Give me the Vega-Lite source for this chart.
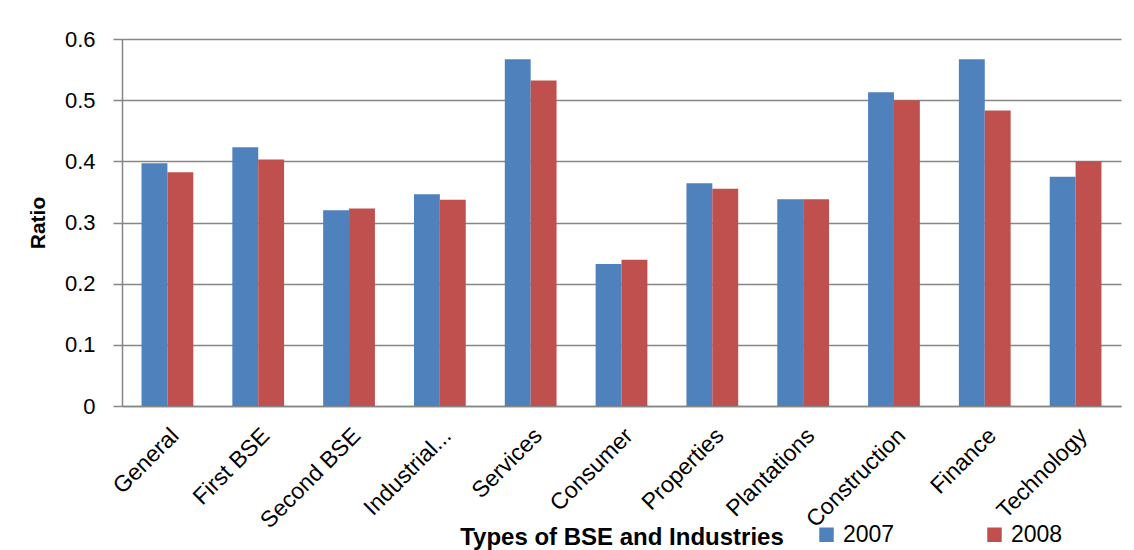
{
  "$schema": "https://vega.github.io/schema/vega-lite/v6.json",
  "autosize": {"type": "none"},
  "width": 999,
  "height": 367,
  "padding": {"left": 122, "top": 39, "right": 13, "bottom": 144},
  "background": "white",
  "data": {
    "values": [
      {"category": "General", "year": "2007", "ratio": 0.397},
      {"category": "General", "year": "2008", "ratio": 0.382},
      {"category": "First BSE", "year": "2007", "ratio": 0.423},
      {"category": "First BSE", "year": "2008", "ratio": 0.403},
      {"category": "Second BSE", "year": "2007", "ratio": 0.320},
      {"category": "Second BSE", "year": "2008", "ratio": 0.323},
      {"category": "Industrial...", "year": "2007", "ratio": 0.346},
      {"category": "Industrial...", "year": "2008", "ratio": 0.337},
      {"category": "Services", "year": "2007", "ratio": 0.567},
      {"category": "Services", "year": "2008", "ratio": 0.532},
      {"category": "Consumer", "year": "2007", "ratio": 0.232},
      {"category": "Consumer", "year": "2008", "ratio": 0.239},
      {"category": "Properties", "year": "2007", "ratio": 0.364},
      {"category": "Properties", "year": "2008", "ratio": 0.355},
      {"category": "Plantations", "year": "2007", "ratio": 0.338},
      {"category": "Plantations", "year": "2008", "ratio": 0.338},
      {"category": "Construction", "year": "2007", "ratio": 0.513},
      {"category": "Construction", "year": "2008", "ratio": 0.500},
      {"category": "Finance", "year": "2007", "ratio": 0.567},
      {"category": "Finance", "year": "2008", "ratio": 0.483},
      {"category": "Technology", "year": "2007", "ratio": 0.375},
      {"category": "Technology", "year": "2008", "ratio": 0.400}
    ]
  },
  "mark": {"type": "bar"},
  "encoding": {
    "x": {
      "field": "category",
      "type": "nominal",
      "sort": null,
      "scale": {"paddingInner": 0.43, "paddingOuter": 0.215},
      "axis": {
        "title": "Types of BSE and Industries",
        "titleFont": "Liberation Sans",
        "titleFontSize": 24,
        "titleFontWeight": "bold",
        "titleColor": "black",
        "titleY": 138,
        "titleBaseline": "alphabetic",
        "labelAngle": -45,
        "labelFont": "Liberation Sans",
        "labelFontSize": 23,
        "labelColor": "black",
        "labelPadding": 18,
        "labelLimit": 300,
        "ticks": false,
        "domainColor": "#868686",
        "domainWidth": 1.5
      }
    },
    "xOffset": {
      "field": "year",
      "type": "nominal",
      "scale": {"paddingInner": 0, "paddingOuter": 0}
    },
    "y": {
      "field": "ratio",
      "type": "quantitative",
      "scale": {"domain": [0, 0.6], "nice": false},
      "axis": {
        "title": "Ratio",
        "titleFont": "Liberation Sans",
        "titleFontSize": 21,
        "titleFontWeight": "bold",
        "titleColor": "black",
        "titlePadding": 16,
        "values": [0, 0.1, 0.2, 0.3, 0.4, 0.5, 0.6],
        "format": ".1~f",
        "labelFont": "Liberation Sans",
        "labelFontSize": 22,
        "labelColor": "black",
        "labelPadding": 18,
        "tickSize": 9,
        "tickColor": "#868686",
        "tickWidth": 1.5,
        "domainColor": "#868686",
        "domainWidth": 1.5,
        "grid": true,
        "gridColor": "#868686",
        "gridWidth": 1.5
      }
    },
    "color": {
      "field": "year",
      "type": "nominal",
      "scale": {"domain": ["2007", "2008"], "range": ["#4F81BD", "#C0504D"]},
      "legend": {
        "title": null,
        "orient": "none",
        "legendX": 693,
        "legendY": 484,
        "direction": "horizontal",
        "columns": 2,
        "columnPadding": 88,
        "symbolType": "square",
        "symbolSize": 210,
        "symbolStrokeWidth": 0,
        "symbolOpacity": 1,
        "labelOffset": 5,
        "labelFont": "Liberation Sans",
        "labelFontSize": 23,
        "labelColor": "black"
      }
    }
  },
  "config": {
    "view": {"stroke": null},
    "axisX": {"grid": false}
  }
}
